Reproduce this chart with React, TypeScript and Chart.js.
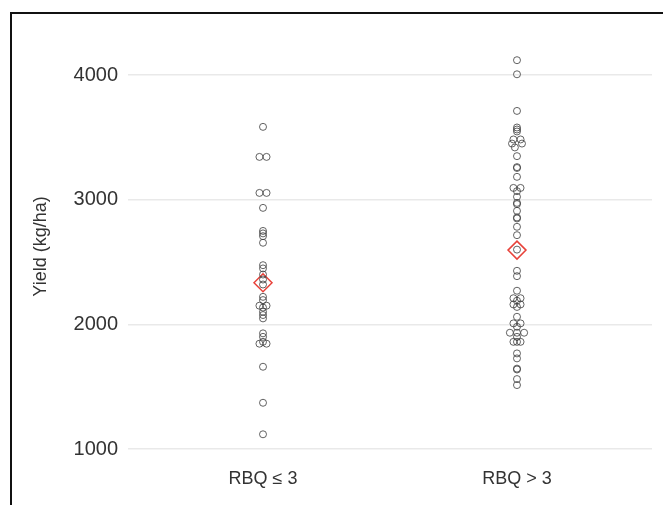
import React, { useEffect, useRef } from "react";
import { Chart, registerables } from "chart.js";

Chart.register(...registerables);

const CATEGORIES = ["RBQ ≤ 3", "RBQ > 3"];
const Y_TICKS = [1000, 2000, 3000, 4000];

const GROUP1_YIELD = [
  3585, 3344, 3344, 3055, 3055, 2935, 2750, 2730, 2708, 2655, 2475, 2449, 2400, 2360,
  2320, 2221, 2195, 2150, 2150, 2135, 2101, 2075, 2048, 1928, 1900, 1860, 1845, 1845,
  1660, 1371, 1118,
];
const GROUP1_JITTER = [
  0, -0.5, 0.5, -0.5, 0.5, 0, 0, 0, 0, 0, 0, 0, 0, 0,
  0, 0, 0, -0.5, 0.5, 0, 0, 0, 0, 0, 0, 0, -0.5, 0.5,
  0, 0, 0,
];

const GROUP2_YIELD = [
  4120, 4007, 3713, 3580, 3564, 3548, 3484, 3484, 3451, 3451, 3420, 3350, 3262, 3255,
  3184, 3095, 3095, 3069, 3024, 2975, 2965, 2911, 2858, 2850, 2783, 2716, 2600, 2430,
  2387, 2270, 2210, 2210, 2190, 2160, 2160, 2140, 2061, 2008, 2008, 1981, 1933, 1933,
  1933, 1900, 1860, 1860, 1860, 1767, 1727, 1645, 1638, 1561, 1513,
];
const GROUP2_JITTER = [
  0, 0, 0, 0, 0, 0, -0.5, 0.5, -0.7, 0.7, -0.3, 0, 0, 0,
  0, -0.5, 0.5, 0, 0, 0, 0, 0, 0, 0, 0, 0, 0, 0,
  0, 0, -0.5, 0.5, 0, -0.5, 0.5, 0, 0, -0.5, 0.5, 0, -1, 0,
  1, 0, -0.5, 0, 0.5, 0, 0, 0, 0, 0, 0,
];

const MEANS = [2334, 2596];

const JITTER_STEP = 0.028;
const FONT = "'Liberation Sans', Arial, sans-serif";
const TEXT = "#333333";

export default function App() {
  const ref = useRef<HTMLCanvasElement | null>(null);

  useEffect(() => {
    if (!ref.current) return;
    const toPts = (vals: number[], jit: number[], idx: number) =>
      vals.map((v, i) => ({ x: idx + jit[i] * JITTER_STEP, y: v }));

    const chart = new Chart(ref.current, {
      type: "scatter",
      data: {
        datasets: [
          {
            label: CATEGORIES[0],
            data: toPts(GROUP1_YIELD, GROUP1_JITTER, 0),
            pointRadius: 3.5,
            pointBorderWidth: 1,
            borderColor: "rgba(60,60,60,0.8)",
            backgroundColor: "rgba(0,0,0,0)",
          },
          {
            label: CATEGORIES[1],
            data: toPts(GROUP2_YIELD, GROUP2_JITTER, 1),
            pointRadius: 3.5,
            pointBorderWidth: 1,
            borderColor: "rgba(60,60,60,0.8)",
            backgroundColor: "rgba(0,0,0,0)",
          },
          {
            label: "Mean",
            data: MEANS.map((m, i) => ({ x: i, y: m })),
            pointStyle: "rectRot",
            pointRadius: 9,
            pointBorderWidth: 1.5,
            borderColor: "#e8423a",
            backgroundColor: "rgba(0,0,0,0)",
          },
        ],
      },
      options: {
        animation: false,
        responsive: false,
        devicePixelRatio: 1,
        layout: { padding: { top: 44, right: 11, left: 0, bottom: 0 } },
        plugins: { legend: { display: false }, tooltip: { enabled: false } },
        scales: {
          x: {
            type: "linear",
            min: -0.5315,
            max: 1.5315,
            afterBuildTicks: (s: any) => {
              s.ticks = CATEGORIES.map((_, i) => ({ value: i }));
            },
            afterFit: (s: any) => {
              s.height = 56;
            },
            grid: { display: false },
            border: { display: false },
            ticks: {
              padding: 11,
              color: TEXT,
              font: { family: FONT, size: 18 },
              callback: (v: any) => CATEGORIES[Math.round(Number(v))] ?? "",
            },
          },
          y: {
            min: 1000,
            max: 4250,
            afterBuildTicks: (s: any) => {
              s.ticks = Y_TICKS.map((v) => ({ value: v }));
            },
            afterFit: (s: any) => {
              s.width = 128;
            },
            grid: { color: "#e9e9e9", lineWidth: 1.5, drawTicks: false },
            border: { display: false },
            ticks: {
              padding: 10,
              color: TEXT,
              font: { family: FONT, size: 20 },
              callback: (v: any) => String(v),
            },
            title: {
              display: true,
              text: "Yield (kg/ha)",
              color: TEXT,
              font: { family: FONT, size: 18 },
              padding: { top: 30, bottom: 0 },
            },
          },
        },
      },
    });
    return () => chart.destroy();
  }, []);

  return (
    <div style={{ position: "fixed", left: 0, top: 0, width: 663, height: 505, background: "#fff" }}>
      <canvas ref={ref} width={663} height={505} style={{ position: "absolute", left: 0, top: 0 }} />
      <div
        style={{
          position: "absolute",
          left: 10,
          top: 12,
          width: 700,
          height: 600,
          borderLeft: "2.5px solid #111",
          borderTop: "2.5px solid #111",
          pointerEvents: "none",
        }}
      />
    </div>
  );
}
